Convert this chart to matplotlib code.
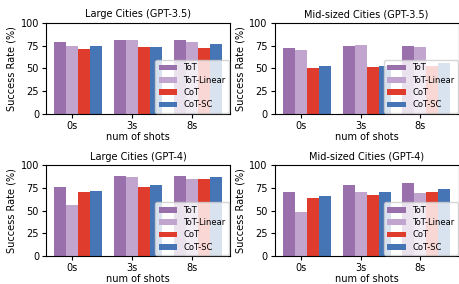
import numpy as np
import matplotlib.pyplot as plt

shots = ["0s", "3s", "8s"]
methods = ["ToT", "ToT-Linear", "CoT", "CoT-SC"]
colors = ["#9970ab", "#c2a5cf", "#e03c2d", "#4575b4"]

titles = ["Large Cities (GPT-3.5)", "Mid-sized Cities (GPT-3.5)",
          "Large Cities (GPT-4)", "Mid-sized Cities (GPT-4)"]

# values per method, for 0s / 3s / 8s
large_gpt35 = [[79, 81, 81], [75, 81, 79], [71, 73, 72], [75, 73, 77]]
mid_gpt35 = [[72, 75, 75], [70, 76, 73], [50, 51, 53], [52, 52, 56]]
large_gpt4 = [[76, 88, 88], [56, 87, 85], [71, 76, 85], [72, 78, 87]]
mid_gpt4 = [[71, 78, 80], [48, 70, 69], [64, 67, 71], [66, 70, 74]]

panels = [large_gpt35, mid_gpt35, large_gpt4, mid_gpt4]

fig, axes = plt.subplots(2, 2, figsize=(4.6, 2.84), dpi=100)
x = np.arange(len(shots))
width = 0.2

for ax, data, title in zip(axes.flat, panels, titles):
    for i, (m, c) in enumerate(zip(methods, colors)):
        # bars start at the tick and go right (group is not centred)
        ax.bar(x + (i - 1) * width, data[i], width, color=c, label=m)
    ax.set_xticks(x)
    ax.set_xticklabels(shots, fontsize=7)
    ax.set_ylim(0, 100)
    ax.set_yticks([0, 25, 50, 75, 100])
    ax.tick_params(axis="both", labelsize=7, length=3, pad=2)
    ax.set_title(title, fontsize=7, pad=4)
    ax.set_xlabel("num of shots", fontsize=7, labelpad=1)
    ax.set_ylabel("Success Rate (%)", fontsize=7, labelpad=3)
    ax.legend(loc="lower right", fontsize=6, handlelength=2.2,
              borderaxespad=0.1, labelspacing=0.4)

fig.subplots_adjust(left=0.1, right=0.997, top=0.919, bottom=0.099,
                    wspace=0.243, hspace=0.57)
plt.savefig("out.png")
